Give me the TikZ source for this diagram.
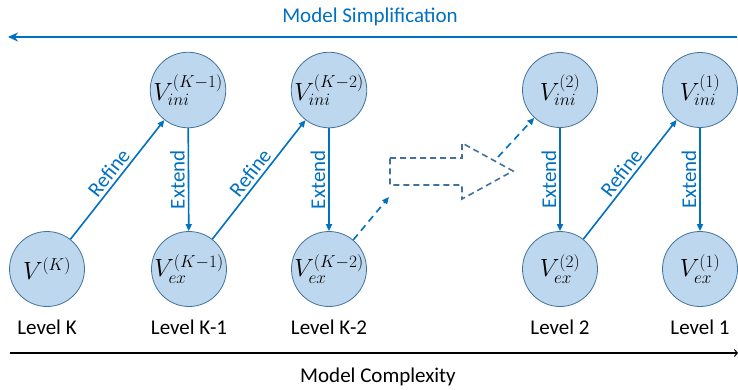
\documentclass[tikz,border=0pt]{standalone}
\usepackage{fontspec}
\setmainfont{Carlito}
\usetikzlibrary{arrows.meta}
\definecolor{flow}{RGB}{0,112,192}
\definecolor{nodefill}{RGB}{189,215,238}
\definecolor{nodeline}{RGB}{65,113,156}
\definecolor{blockline}{RGB}{65,113,156}

\begin{document}
\begin{tikzpicture}[x=1pt,y=-1pt,
  state/.style={circle, draw=nodeline, fill=nodefill, line width=0.8pt,
    minimum size=75pt, inner sep=0pt, font=\fontsize{24}{26}\selectfont},
  link/.style={draw=flow, line width=1.6pt, -{Triangle[length=7pt,width=6pt]}},
  dlink/.style={link, dash pattern=on 7pt off 5pt},
  lbl/.style={font=\fontsize{21}{24}\selectfont, text=flow, inner sep=3pt},
  level/.style={font=\fontsize{21}{24}\selectfont},
  axis/.style={line width=2.4pt}
]
\useasboundingbox (0,0) rectangle (738,389);

% top arrow: model simplification
\coordinate (simpR) at (737,37);
\coordinate (simpL) at (8,37);
\draw[draw=flow, line width=2pt, -{Stealth[length=10pt,width=9pt]}] (simpR) -- (simpL);
\node[lbl, text=flow] (simpT) at (370,17) {Model Simplification};

% states
\node[state] (vk)   at (47,269)  {$V^{(K)}$};
\node[state] (ini1) at (188,90)  {$V_{ini}^{(K-1)}$};
\node[state] (ex1)  at (189,269) {$V_{ex}^{(K-1)}$};
\node[state] (ini2) at (329,90)  {$V_{ini}^{(K-2)}$};
\node[state] (ex2)  at (329,269) {$V_{ex}^{(K-2)}$};
\node[state] (ini3) at (560,90)  {$V_{ini}^{(2)}$};
\node[state] (ex3)  at (560,269) {$V_{ex}^{(2)}$};
\node[state] (ini4) at (700,90)  {$V_{ini}^{(1)}$};
\node[state] (ex4)  at (700,269) {$V_{ex}^{(1)}$};

% refine and extend steps
\draw[link] (vk) -- node[lbl, sloped, above] {Refine} (ini1);
\draw[link] (ini1) -- node[lbl, rotate=90, anchor=south] {Extend} (ex1);
\draw[link] (ex1) -- node[lbl, sloped, above] {Refine} (ini2);
\draw[link] (ini2) -- node[lbl, rotate=90, anchor=south] {Extend} (ex2);
\draw[link] (ini3) -- node[lbl, rotate=90, anchor=south] {Extend} (ex3);
\draw[link] (ex3) -- node[lbl, sloped, above] {Refine} (ini4);
\draw[link] (ini4) -- node[lbl, rotate=90, anchor=south] {Extend} (ex4);

% skipped levels
\coordinate (gapIn) at (389,197);
\coordinate (gapOut) at (498,157);
\draw[dlink] (ex2) -- (gapIn);
\draw[dlink] (gapOut) -- (ini3);
\draw[draw=blockline, line width=1.6pt, dash pattern=on 6pt off 4pt, line join=miter]
  (390,158) -- (462,158) -- (462,143) -- (513,171) -- (462,199) -- (462,185) -- (390,185) -- cycle;

% level names
\node[level] (lk)  at (47,327)  {Level K};
\node[level] (lk1) at (189,327) {Level K-1};
\node[level] (lk2) at (329,327) {Level K-2};
\node[level] (l2)  at (560,327) {Level 2};
\node[level] (l1)  at (700,327) {Level 1};

% bottom axis: model complexity
\coordinate (cplxL) at (10,353);
\coordinate (cplxR) at (738,353);
\draw[axis, -{Straight Barb[length=3pt,width=7pt,line width=1pt]}] (cplxL) -- (cplxR);
\node[level] (cplxT) at (378,377) {Model Complexity};
\end{tikzpicture}
\end{document}
